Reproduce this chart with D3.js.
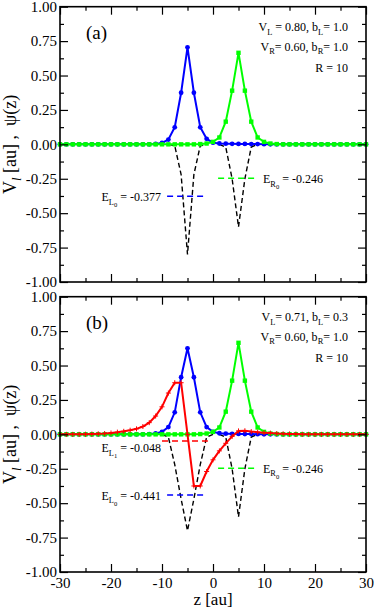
<!DOCTYPE html>
<html>
<head>
<meta charset="utf-8">
<script src="https://cdn.jsdelivr.net/npm/d3@7"></script>
<style>
  body { margin: 0; background: #fff; }
  svg, svg text, svg tspan { font-family: "Liberation Serif", "DejaVu Serif", serif !important; }
  svg text { fill: #000; white-space: pre; }
</style>
</head>
<body>
<svg id="chart" width="374" height="608" font-family="Liberation Serif, DejaVu Serif, serif"></svg>
<script>
// sample grid along z [au]
const zGrid = [-30, -28.75, -27.5, -26.25, -25, -23.75, -22.5, -21.25, -20, -18.75,
  -17.5, -16.25, -15, -13.75, -12.5, -11.25, -10, -8.75, -7.5, -6.25,
  -5, -3.75, -2.5, -1.25, 0, 1.25, 2.5, 3.75, 5, 6.25,
  7.5, 8.75, 10, 11.25, 12.5, 13.75, 15, 16.25, 17.5, 18.75,
  20, 21.25, 22.5, 23.75, 25, 26.25, 27.5, 28.75, 30];

// panel (a) wavefunctions
const psiA_L0 = [0, 0, 0, 0, 0, 0, 0, 0, 0, 0, 0, 0, 0, 0, 0,
  0.003, 0.01, 0.035, 0.124, 0.375, 0.705, 0.375, 0.124, 0.04, 0.012,
  0.006, 0.005, 0.004, 0.003, 0.003, 0.002, 0.002, 0.001,
  0, 0, 0, 0, 0, 0, 0, 0, 0, 0, 0, 0, 0, 0, 0, 0];
const psiA_R0 = [0, 0, 0, 0, 0, 0, 0, 0, 0, 0, 0, 0, 0, 0, 0, 0, 0, 0, 0, 0, 0, 0,
  0.002, 0.006, 0.018, 0.05, 0.165, 0.39, 0.665, 0.39, 0.165, 0.05, 0.018, 0.006, 0.002,
  0, 0, 0, 0, 0, 0, 0, 0, 0, 0, 0, 0, 0, 0];

// panel (b) wavefunctions
const psiB_L0 = [0, 0, 0, 0, 0, 0, 0, 0, 0, 0, 0, 0, 0, 0,
  0.002, 0.006, 0.018, 0.053, 0.16, 0.415, 0.625, 0.415, 0.16, 0.053, 0.018,
  0.008, 0.005, 0.004, 0.003, 0.002, 0.002, 0.001,
  0, 0, 0, 0, 0, 0, 0, 0, 0, 0, 0, 0, 0, 0, 0, 0, 0];
const psiB_R0 = [0, 0, 0, 0, 0, 0, 0, 0, 0, 0, 0, 0, 0, 0, 0, 0, 0, 0, 0, 0, 0, 0,
  0.002, 0.006, 0.018, 0.05, 0.165, 0.39, 0.665, 0.39, 0.165, 0.05, 0.018, 0.006, 0.002,
  0, 0, 0, 0, 0, 0, 0, 0, 0, 0, 0, 0, 0, 0];
const psiB_L1 = [0, 0, 0, 0,
  0.001, 0.002, 0.004, 0.006, 0.01, 0.016, 0.022, 0.03, 0.04, 0.057, 0.085,
  0.133, 0.2, 0.3, 0.375, 0.375, 0, -0.375, -0.375, -0.27, -0.185,
  -0.12, -0.065, -0.015, 0.025, 0.026, 0.02, 0.016, 0.012, 0.009, 0.006,
  0.004, 0.003, 0.002, 0.001,
  0, 0, 0, 0, 0, 0, 0, 0, 0, 0];

// potential wells (dashed)
const wellZ_L = [-8.75, -7.5, -6.25, -5, -3.75, -2.5, -1.25];
const wellZ_R = [1.25, 2.5, 3.75, 5, 6.25, 7.5, 8.75];
const wellZ_BL = [-10, -8.75, -7.5, -6.25, -5, -3.75, -2.5, -1.25, 0];
const potA_L = [0, -0.01, -0.22, -0.80, -0.22, -0.01, 0];
const potA_R = [0, -0.02, -0.25, -0.60, -0.25, -0.02, 0];
const potB_L = [0, -0.02, -0.22, -0.47, -0.70, -0.47, -0.22, -0.02, 0];
const potB_R = [0, -0.02, -0.25, -0.60, -0.25, -0.02, 0];

// energy levels: value, z extent
const levA_E = [-0.377, -0.246];
const levA_from = [-9, 1];
const levA_to = [-1.5, 8.5];
const levA_name = [["L", "0"], ["R", "0"]];
const levB_E = [-0.048, -0.441, -0.246];
const levB_from = [-10, -9, 1];
const levB_to = [-1, -1.5, 8.5];
const levB_name = [["L", "1"], ["L", "0"], ["R", "0"]];

// axis ticks
const xMajor = [-30, -20, -10, 0, 10, 20, 30];
const xMinor = [-25, -15, -5, 5, 15, 25];
const yMajor = [-1, -0.75, -0.5, -0.25, 0, 0.25, 0.5, 0.75, 1];
const yMinor = [-0.875, -0.625, -0.375, -0.125, 0.125, 0.375, 0.625, 0.875];

const BLUE = "#0000ff", GREEN = "#00ff00", RED = "#ff0000";
const FONT = "Liberation Serif, DejaVu Serif, serif";

const svg = d3.select("#chart");
const x = d3.scaleLinear().domain([-30, 30]).range([60, 366]);

// writes text made of [string, level, italic] parts (level 1 = sub, 2 = sub-sub)
function rich(sel, parts, size) {
  const shift = [0, 0.3, 0.5], scale = [1, 0.7, 0.55];
  let cur = 0;
  parts.forEach(([t, lv, it]) => {
    const target = shift[lv] * size;
    const ts = sel.append("tspan")
      .attr("dy", target - cur)
      .attr("font-size", size * scale[lv])
      .text(t);
    if (it) ts.attr("font-style", "italic");
    cur = target;
  });
}

const panels = [
  {
    top: 6.7, bottom: 282, tag: "(a)", xLabels: false,
    wells: [[wellZ_L, potA_L], [wellZ_R, potA_R]],
    levels: levA_E.map((e, i) => ({ e, from: levA_from[i], to: levA_to[i], name: levA_name[i] })),
    levColors: [BLUE, GREEN],
    levDy: [5, 5],
    series: [[psiA_L0, BLUE, "circle"], [psiA_R0, GREEN, "square"]],
    info: [
      [["V", 0], ["L", 1], [" = 0.80, b", 0], ["L", 1], ["= 1.0", 0]],
      [["V", 0], ["R", 1], ["= 0.60, b", 0], ["R", 1], ["= 1.0", 0]],
      [["R = 10", 0]]
    ]
  },
  {
    top: 296.7, bottom: 572, tag: "(b)", xLabels: true,
    wells: [[wellZ_BL, potB_L], [wellZ_R, potB_R]],
    levels: levB_E.map((e, i) => ({ e, from: levB_from[i], to: levB_to[i], name: levB_name[i] })),
    levColors: [RED, BLUE, GREEN],
    levDy: [11, 4.5, 4.5],
    series: [[psiB_L0, BLUE, "circle"], [psiB_R0, GREEN, "square"], [psiB_L1, RED, "plus"]],
    info: [
      [["V", 0], ["L", 1], ["= 0.71, b", 0], ["L", 1], ["= 0.3", 0]],
      [["V", 0], ["R", 1], ["= 0.60, b", 0], ["R", 1], ["= 1.0", 0]],
      [["R = 10", 0]]
    ]
  }
];

panels.forEach(p => {
  const y = d3.scaleLinear().domain([-1, 1]).range([p.bottom, p.top]);
  const g = svg.append("g").attr("font-family", FONT);
  const line = d3.line().x(d => x(d[0])).y(d => y(d[1]));

  // potential wells
  p.wells.forEach(([zs, vs]) => {
    g.append("path")
      .datum(zs.map((z, i) => [z, vs[i]]))
      .attr("d", line)
      .attr("fill", "none")
      .attr("stroke", "#000")
      .attr("stroke-width", 1.4)
      .attr("stroke-dasharray", "5,3");
  });

  // energy levels
  p.levels.forEach((lv, i) => {
    g.append("path")
      .datum([[lv.from, lv.e], [lv.to, lv.e]])
      .attr("d", line)
      .attr("stroke", p.levColors[i])
      .attr("stroke-width", 1.4)
      .attr("stroke-dasharray", "6,4");
    const left = lv.from < 0;
    const t = g.append("text")
      .attr("x", left ? 161 : 263)
      .attr("y", y(lv.e) + p.levDy[i])
      .attr("text-anchor", left ? "end" : "start");
    rich(t, [["E", 0], [lv.name[0], 1], [lv.name[1], 2], [" = " + lv.e.toFixed(3), 0]], 12);
  });

  // wavefunctions
  p.series.forEach(([vals, color, mark]) => {
    const pts = zGrid.map((z, i) => [z, vals[i]]);
    g.append("path")
      .datum(pts)
      .attr("d", line)
      .attr("fill", "none")
      .attr("stroke", color)
      .attr("stroke-width", 2);
    const m = g.append("g").selectAll("g").data(pts).enter();
    if (mark === "circle") {
      m.append("circle").attr("cx", d => x(d[0])).attr("cy", d => y(d[1]))
        .attr("r", 2.4).attr("fill", color);
    } else if (mark === "square") {
      m.append("rect").attr("x", d => x(d[0]) - 2.2).attr("y", d => y(d[1]) - 2.2)
        .attr("width", 4.4).attr("height", 4.4).attr("fill", color);
    } else {
      m.append("path")
        .attr("transform", d => `translate(${x(d[0])},${y(d[1])})`)
        .attr("d", "M-2.5,0H2.5M0,-2.5V2.5")
        .attr("stroke", color).attr("stroke-width", 1);
    }
  });

  // axes with inward ticks
  const axes = g.append("g").attr("class", "axes");
  const clean = s => {
    s.attr("font-family", FONT);
    s.select(".domain").remove();
    s.selectAll("line").attr("stroke-width", 1.2);
  };

  axes.append("g").attr("transform", `translate(0,${p.bottom})`)
    .call(d3.axisBottom(x).tickValues(xMajor).tickSize(-8).tickSizeOuter(0).tickPadding(5)
      .tickFormat(d => p.xLabels ? String(d) : ""))
    .call(clean)
    .call(s => s.selectAll("text").attr("font-size", 15));
  axes.append("g").attr("transform", `translate(0,${p.bottom})`)
    .call(d3.axisBottom(x).tickValues(xMinor).tickSize(-4).tickFormat(""))
    .call(clean);
  axes.append("g").attr("transform", `translate(0,${p.top})`)
    .call(d3.axisTop(x).tickValues(xMajor).tickSize(-8).tickFormat(""))
    .call(clean);
  axes.append("g").attr("transform", `translate(0,${p.top})`)
    .call(d3.axisTop(x).tickValues(xMinor).tickSize(-4).tickFormat(""))
    .call(clean);

  axes.append("g").attr("transform", "translate(60,0)")
    .call(d3.axisLeft(y).tickValues(yMajor).tickSize(-8).tickPadding(3)
      .tickFormat(d => d.toFixed(2)))
    .call(clean)
    .call(s => s.selectAll("text").attr("font-size", 15));
  axes.append("g").attr("transform", "translate(60,0)")
    .call(d3.axisLeft(y).tickValues(yMinor).tickSize(-4).tickFormat(""))
    .call(clean);
  axes.append("g").attr("transform", "translate(366,0)")
    .call(d3.axisRight(y).tickValues(yMajor).tickSize(-8).tickFormat(""))
    .call(clean);
  axes.append("g").attr("transform", "translate(366,0)")
    .call(d3.axisRight(y).tickValues(yMinor).tickSize(-4).tickFormat(""))
    .call(clean);

  // frame
  g.append("rect")
    .attr("x", 60).attr("y", p.top)
    .attr("width", 306).attr("height", p.bottom - p.top)
    .attr("fill", "none").attr("stroke", "#000").attr("stroke-width", 1.6);

  // panel tag and parameters
  g.append("text").attr("x", 86).attr("y", p.top + 32).attr("font-size", 19).text(p.tag);
  p.info.forEach((parts, i) => {
    const t = g.append("text")
      .attr("x", 348)
      .attr("y", p.top + [24.5, 44, 65][i])
      .attr("text-anchor", "end");
    rich(t, parts, 12);
  });

  // y label
  const yl = g.append("text")
    .attr("transform", `translate(15.5,${(p.top + p.bottom) / 2}) rotate(-90)`)
    .attr("text-anchor", "middle");
  rich(yl, [["V", 0], ["l", 1, true], [" [au] ,  \u03c8(z)", 0]], 18);
});

// x label
svg.append("text")
  .attr("x", 213).attr("y", 605)
  .attr("text-anchor", "middle")
  .attr("font-size", 17)
  .text("z [au]");
</script>
</body>
</html>
